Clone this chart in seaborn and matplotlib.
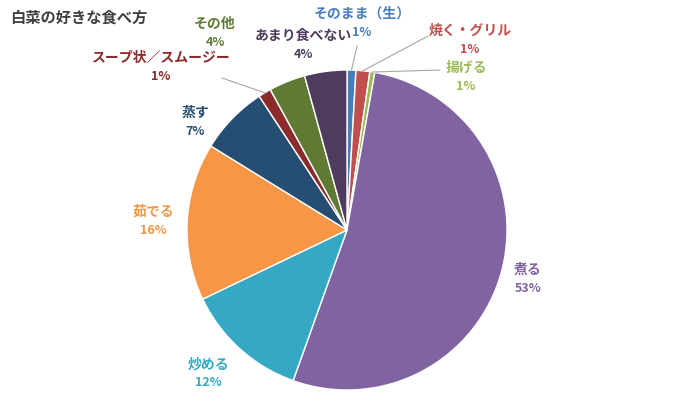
import matplotlib
matplotlib.use("Agg")
import matplotlib.pyplot as plt
import seaborn as sns
import numpy as np

sns.set_theme(style="white")
plt.rcParams['font.family'] = ['Noto Sans CJK JP', 'DejaVu Sans']

categories = ["そのまま（生）", "焼く・グリル", "揚げる", "煮る", "炒める", "茹でる", "蒸す", "スープ状／スムージー", "その他", "あまり食べない"]
values = [0.9, 1.4, 0.5, 53.0, 12.5, 16.0, 7.0, 1.3, 3.7, 4.3]
pct_labels = ["1%", "1%", "1%", "53%", "12%", "16%", "7%", "1%", "4%", "4%"]
colors = ["#4a7ebb", "#c0504d", "#9bbb59", "#8064a2", "#35a9c4", "#f79646",
          "#254e72", "#8b2b2b", "#5e7a33", "#4e3b5e"]
label_pos = [(362, 14), (470, 31), (466, 68), (528, 270), (208, 364), (153, 212),
             (195, 113), (161, 58), (215, 24), (303, 36)]
leaders = {0: (357, 46), 1: (428, 36), 2: (440, 70), 7: (222, 78)}

W, H = 700, 420
fig = plt.figure(figsize=(7, 4.2), dpi=100)
cx, cy, r = 347, 230, 160
ax = fig.add_axes([(cx - r) / W, 1 - (cy + r) / H, 2 * r / W, 2 * r / H])
wedges, _ = ax.pie(values, colors=colors, startangle=90, counterclock=False,
                   wedgeprops=dict(edgecolor="white", linewidth=1))
ax.set_xlim(-1, 1)
ax.set_ylim(-1, 1)
ax.set_aspect("equal")

for i, w in enumerate(wedges):
    x, y = label_pos[i]
    fx, fy = x / W, 1 - y / H
    fig.text(fx, fy, categories[i], color=colors[i], fontsize=10, fontweight="bold",
             ha="center", va="center")
    fig.text(fx, fy - 19 / H, pct_labels[i], color=colors[i], fontsize=9, fontweight="bold",
             ha="center", va="center")
    if i in leaders:
        ang = np.deg2rad((w.theta1 + w.theta2) / 2)
        ex, ey = cx + r * np.cos(ang), cy - r * np.sin(ang)
        lx, ly = leaders[i]
        fig.add_artist(plt.Line2D([ex / W, lx / W], [1 - ey / H, 1 - ly / H],
                                  color="#a6a6a6", lw=0.8, transform=fig.transFigure))

fig.text(10 / W, 1 - 18 / H, "白菜の好きな食べ方", fontsize=11, fontweight="bold",
         color="#404040", ha="left", va="center")
fig.savefig("out.png", dpi=100)
